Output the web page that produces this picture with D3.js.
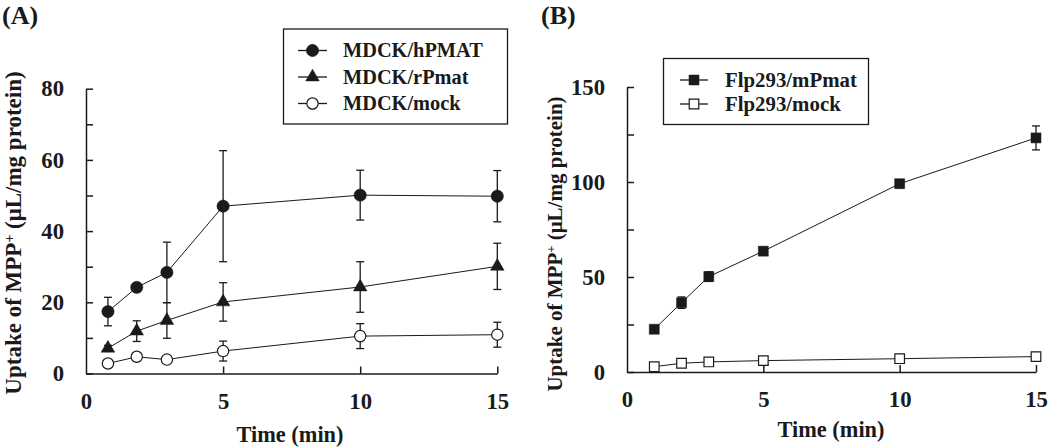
<!DOCTYPE html>
<html>
<head>
<meta charset="utf-8">
<script src="https://cdn.jsdelivr.net/npm/d3@7"></script>
<style>
  html, body { margin: 0; padding: 0; background: #fff; }
  svg { display: block; }
</style>
</head>
<body>
<svg id="chart" width="1050" height="447"></svg>
<script>
// ---------- Data ----------
const timeA = [0.8, 1.85, 2.95, 5, 10, 15];
const hpmatMean = [17.4, 24.2, 28.4, 47.0, 50.1, 49.8];
const hpmatSd   = [4.0, 0.8, 8.5, 15.6, 7.0, 7.2];
const rpmatMean = [7.1, 11.9, 14.9, 20.1, 24.3, 30.1];
const rpmatSd   = [0.8, 2.9, 5.0, 5.4, 7.1, 6.5];
const mockAMean = [2.8, 4.7, 3.9, 6.3, 10.5, 10.9];
const mockASd   = [0.5, 0.8, 0.6, 2.8, 3.5, 3.5];

const timeB = [1, 2, 3, 5, 10, 15];
const mpmatMean = [22.5, 36.5, 50.2, 63.6, 99.1, 123.2];
const mpmatSd   = [1.5, 3.0, 2.5, 1.5, 2.0, 6.3];
const mockBMean = [2.8, 4.6, 5.3, 6.0, 7.0, 8.1];
const mockBSd   = [0.5, 0.5, 0.5, 0.5, 0.5, 0.5];

const xTicks = [0, 5, 10, 15];
const yTicksA = [0, 10, 20, 30, 40, 50, 60, 70, 80];
const yLabelsA = [0, 20, 40, 60, 80];
const yTicksB = [0, 25, 50, 75, 100, 125, 150];
const yLabelsB = [0, 50, 100, 150];

const legendA = ["MDCK/hPMAT", "MDCK/rPmat", "MDCK/mock"];
const legendB = ["Flp293/mPmat", "Flp293/mock"];

// ---------- Setup ----------
const FONT = "'Liberation Serif', 'Times New Roman', Times, serif";
const INK = "#1a1a1a";
const svg = d3.select("#chart");

const probe = svg.append("text").attr("font-family", FONT).attr("font-weight", "bold")
  .attr("font-size", 20).attr("x", -1000).attr("y", -1000);
function sizeFor(str, target) {
  probe.text(str);
  const w = probe.node().getComputedTextLength();
  return 20 * target / w;
}
const tickSize = sizeFor("80", 22.7);
const legendSizeA = sizeFor("MDCK/hPMAT", 140);
const legendSizeB = sizeFor("Flp293/mPmat", 132);
const xTitleSize = sizeFor("Time (min)", 107);
const letterSize = 26;
probe.remove();

const symCircle = d3.symbol().type(d3.symbolCircle).size(Math.PI * 38);
const symCircleOpen = d3.symbol().type(d3.symbolCircle).size(Math.PI * 32);
const symTri = d3.symbol().type(d3.symbolTriangle).size(80);
const symSquare = d3.symbol().type(d3.symbolSquare).size(100);
const symSquareOpen = d3.symbol().type(d3.symbolSquare).size(92);

function drawPanel(opts) {
  const g = svg.append("g");
  const x = d3.scaleLinear().domain([0, 15]).range(opts.xRange);
  const y = d3.scaleLinear().domain(opts.yDomain).range(opts.yRange);

  const xa = g.append("g")
    .attr("transform", `translate(0,${opts.yRange[0]})`)
    .call(d3.axisBottom(x).tickValues(xTicks).tickSizeInner(-7).tickSizeOuter(0).tickPadding(19));
  const ya = g.append("g")
    .attr("transform", `translate(${opts.xRange[0]},0)`)
    .call(d3.axisLeft(y).tickValues(opts.yTicks).tickSizeInner(-7).tickSizeOuter(0).tickPadding(22)
      .tickFormat(d => opts.yLabels.includes(d) ? String(d) : ""));
  [xa, ya].forEach(a => {
    a.attr("font-family", FONT).attr("font-size", tickSize).attr("font-weight", "bold");
    a.selectAll("path, line").attr("stroke", INK).attr("stroke-width", 1.5);
    a.selectAll("text").attr("fill", INK);
  });
  xa.selectAll(".tick").filter(d => d === 0).select("line").remove();

  g.append("text")
    .attr("x", opts.xTitleX).attr("y", opts.xTitleY)
    .attr("text-anchor", "middle")
    .attr("font-family", FONT).attr("font-size", xTitleSize).attr("font-weight", "bold")
    .attr("fill", INK)
    .text("Time (min)");

  const yt = g.append("text")
    .attr("transform", `translate(${opts.yTitleX},${opts.yTitleY}) rotate(-90)`)
    .attr("text-anchor", "middle")
    .attr("font-family", FONT).attr("font-size", opts.yTitleSize).attr("font-weight", "bold")
    .attr("fill", INK);
  yt.append("tspan").text("Uptake of MPP");
  yt.append("tspan").attr("baseline-shift", "super").attr("font-size", opts.yTitleSize * 0.6).text("+");
  yt.append("tspan").text(" (\u03bcL/mg protein)");

  g.append("text")
    .attr("x", opts.letterX).attr("y", 24)
    .attr("font-family", FONT).attr("font-size", letterSize).attr("font-weight", "bold")
    .attr("fill", INK)
    .text(opts.letter);

  const line = d3.line().x(d => x(d.t)).y(d => y(d.v));
  opts.series.forEach(s => {
    const pts = s.time.map((t, i) => ({ t, v: s.mean[i], sd: s.sd[i] }));
    const eb = g.append("g").attr("stroke", INK).attr("stroke-width", 1.3);
    pts.forEach(p => {
      const y1 = y(p.v + p.sd), y2 = y(p.v - p.sd), cx = x(p.t);
      eb.append("line").attr("x1", cx).attr("x2", cx).attr("y1", y1).attr("y2", y2);
      eb.append("line").attr("x1", cx - 4).attr("x2", cx + 4).attr("y1", y1).attr("y2", y1);
      eb.append("line").attr("x1", cx - 4).attr("x2", cx + 4).attr("y1", y2).attr("y2", y2);
    });
    g.append("path").datum(pts).attr("d", line)
      .attr("fill", "none").attr("stroke", INK).attr("stroke-width", 1);
  });
  opts.series.forEach(s => {
    const pts = s.time.map((t, i) => ({ t, v: s.mean[i] }));
    g.selectAll(null).data(pts).enter().append("path")
      .attr("d", s.sym)
      .attr("transform", d => `translate(${x(d.t)},${y(d.v)})`)
      .attr("fill", s.open ? "#fff" : INK)
      .attr("stroke", INK).attr("stroke-width", s.open ? 1.2 : 0.5);
  });

  const L = opts.legend;
  const lg = g.append("g");
  lg.append("rect")
    .attr("x", L.x).attr("y", L.y).attr("width", L.w).attr("height", L.h)
    .attr("fill", "#fff").attr("stroke", INK).attr("stroke-width", 1.3);
  opts.series.forEach((s, i) => {
    const cy = L.rowY[i];
    lg.append("line")
      .attr("x1", L.lx1).attr("x2", L.lx2).attr("y1", cy).attr("y2", cy)
      .attr("stroke", INK).attr("stroke-width", 1.3);
    lg.append("path").attr("d", s.sym)
      .attr("transform", `translate(${(L.lx1 + L.lx2) / 2},${cy})`)
      .attr("fill", s.open ? "#fff" : INK)
      .attr("stroke", INK).attr("stroke-width", s.open ? 1.2 : 0.5);
    lg.append("text")
      .attr("x", L.tx).attr("y", cy + L.fs * 0.33)
      .attr("font-family", FONT).attr("font-size", L.fs).attr("font-weight", "bold")
      .attr("fill", INK)
      .text(s.name);
  });
}

drawPanel({
  letter: "(A)", letterX: 2,
  xRange: [86, 497.3], yDomain: [0, 80], yRange: [373.5, 88.7],
  yTicks: yTicksA, yLabels: yLabelsA,
  xTitleX: 290, xTitleY: 442,
  yTitleX: 21, yTitleY: 233, yTitleSize: 23,
  series: [
    { name: legendA[0], time: timeA, mean: hpmatMean, sd: hpmatSd, sym: symCircle, open: false },
    { name: legendA[1], time: timeA, mean: rpmatMean, sd: rpmatSd, sym: symTri, open: false },
    { name: legendA[2], time: timeA, mean: mockAMean, sd: mockASd, sym: symCircleOpen, open: true }
  ],
  legend: { x: 283.5, y: 29, w: 224, h: 95, rowY: [50.5, 77, 103.5], lx1: 298, lx2: 327, tx: 343, fs: legendSizeA }
});

drawPanel({
  letter: "(B)", letterX: 541,
  xRange: [627, 1036], yDomain: [0, 150], yRange: [372, 87],
  yTicks: yTicksB, yLabels: yLabelsB,
  xTitleX: 831, xTitleY: 437,
  yTitleX: 562, yTitleY: 244, yTitleSize: 21,
  series: [
    { name: legendB[0], time: timeB, mean: mpmatMean, sd: mpmatSd, sym: symSquare, open: false },
    { name: legendB[1], time: timeB, mean: mockBMean, sd: mockBSd, sym: symSquareOpen, open: true }
  ],
  legend: { x: 663.5, y: 58.5, w: 205, h: 66, rowY: [80, 104], lx1: 680, lx2: 708, tx: 725, fs: legendSizeB }
});
</script>
</body>
</html>
